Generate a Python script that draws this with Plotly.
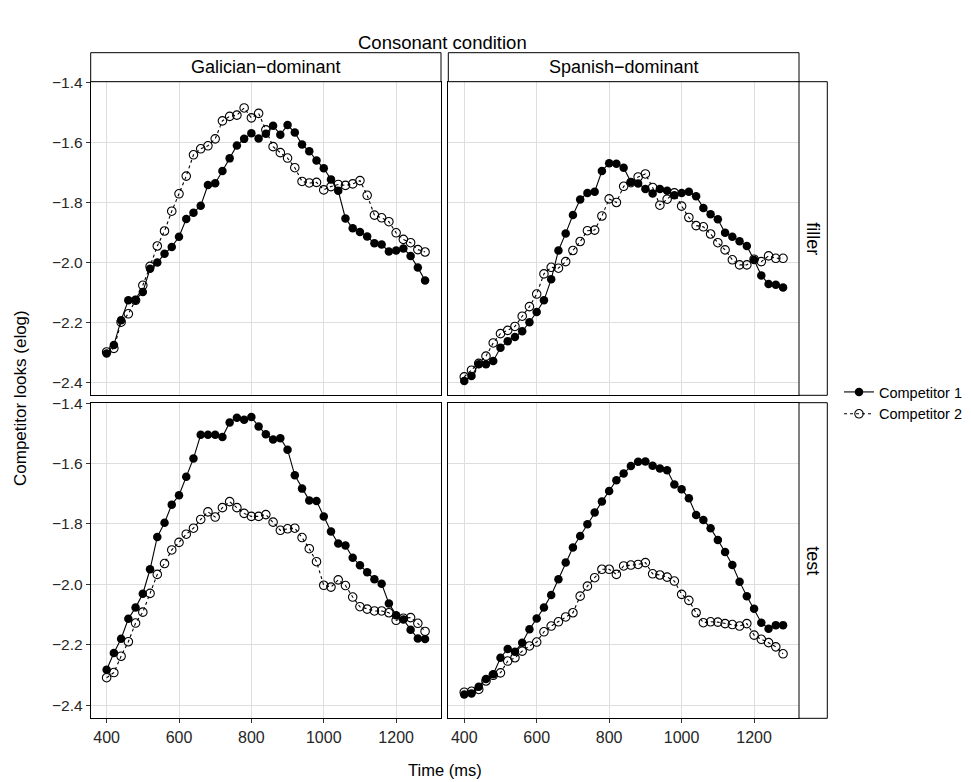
import plotly.graph_objects as go

# ---- data ----
time_ms = list(range(400, 1281, 20))

gal_filler_c1 = [-2.304, -2.276, -2.193, -2.127, -2.126, -2.099, -2.022, -2.001, -1.972, -1.949,
                 -1.915, -1.856, -1.835, -1.812, -1.743, -1.737, -1.696, -1.654, -1.611, -1.589,
                 -1.570, -1.588, -1.572, -1.545, -1.575, -1.543, -1.568, -1.608, -1.630, -1.661,
                 -1.687, -1.724, -1.762, -1.854, -1.887, -1.899, -1.914, -1.937, -1.941, -1.964,
                 -1.961, -1.954, -1.979, -2.018, -2.061]
gal_filler_c2 = [-2.299, -2.287, -2.200, -2.172, -2.127, -2.077, -2.014, -1.946, -1.896, -1.830,
                 -1.772, -1.713, -1.642, -1.622, -1.612, -1.589, -1.529, -1.514, -1.510, -1.486,
                 -1.519, -1.504, -1.559, -1.615, -1.635, -1.653, -1.685, -1.731, -1.736, -1.734,
                 -1.759, -1.748, -1.741, -1.744, -1.739, -1.728, -1.777, -1.843, -1.852, -1.865,
                 -1.902, -1.924, -1.935, -1.958, -1.966]
spa_filler_c1 = [-2.396, -2.379, -2.340, -2.340, -2.329, -2.285, -2.263, -2.249, -2.230, -2.200,
                 -2.166, -2.127, -2.057, -1.961, -1.904, -1.843, -1.791, -1.769, -1.765, -1.696,
                 -1.670, -1.672, -1.685, -1.733, -1.738, -1.756, -1.771, -1.756, -1.762, -1.777,
                 -1.769, -1.765, -1.780, -1.819, -1.840, -1.857, -1.902, -1.915, -1.930, -1.946,
                 -1.993, -2.044, -2.073, -2.075, -2.084]
spa_filler_c2 = [-2.382, -2.360, -2.337, -2.313, -2.269, -2.238, -2.227, -2.214, -2.180, -2.148,
                 -2.106, -2.039, -2.017, -2.020, -1.998, -1.961, -1.931, -1.895, -1.893, -1.846,
                 -1.789, -1.801, -1.747, -1.735, -1.716, -1.706, -1.751, -1.810, -1.790, -1.769,
                 -1.813, -1.851, -1.878, -1.882, -1.906, -1.935, -1.959, -1.992, -2.009, -2.009,
                 -1.990, -1.998, -1.979, -1.987, -1.987]
gal_test_c1 = [-2.283, -2.227, -2.180, -2.114, -2.077, -2.031, -1.950, -1.843, -1.796, -1.736,
               -1.705, -1.644, -1.583, -1.505, -1.505, -1.505, -1.512, -1.464, -1.448, -1.455,
               -1.446, -1.477, -1.503, -1.520, -1.516, -1.554, -1.639, -1.683, -1.722, -1.724,
               -1.775, -1.825, -1.865, -1.871, -1.912, -1.937, -1.960, -1.983, -1.998, -2.063,
               -2.102, -2.116, -2.150, -2.179, -2.181]
gal_test_c2 = [-2.309, -2.292, -2.238, -2.190, -2.128, -2.092, -2.030, -1.967, -1.931, -1.886,
               -1.861, -1.834, -1.814, -1.785, -1.760, -1.777, -1.746, -1.726, -1.746, -1.765,
               -1.775, -1.775, -1.769, -1.794, -1.821, -1.816, -1.814, -1.845, -1.882, -1.925,
               -2.003, -2.009, -1.985, -2.004, -2.042, -2.074, -2.082, -2.088, -2.088, -2.094,
               -2.119, -2.112, -2.110, -2.129, -2.156]
spa_test_c1 = [-2.365, -2.361, -2.339, -2.313, -2.298, -2.243, -2.214, -2.223, -2.193, -2.149,
               -2.113, -2.077, -2.035, -1.983, -1.928, -1.878, -1.840, -1.801, -1.762, -1.726,
               -1.691, -1.655, -1.633, -1.608, -1.594, -1.593, -1.607, -1.616, -1.622, -1.669,
               -1.685, -1.715, -1.770, -1.787, -1.814, -1.853, -1.893, -1.936, -1.991, -2.039,
               -2.081, -2.127, -2.147, -2.135, -2.135]
spa_test_c2 = [-2.357, -2.354, -2.348, -2.320, -2.301, -2.293, -2.254, -2.243, -2.221, -2.204,
               -2.191, -2.157, -2.138, -2.124, -2.108, -2.094, -2.039, -2.006, -1.978, -1.950,
               -1.950, -1.967, -1.939, -1.936, -1.934, -1.928, -1.965, -1.969, -1.976, -1.989,
               -2.033, -2.053, -2.094, -2.127, -2.124, -2.125, -2.130, -2.133, -2.138, -2.130,
               -2.168, -2.182, -2.193, -2.207, -2.230]

x_ticks = [400, 600, 800, 1000, 1200]
y_ticks = [-2.4, -2.2, -2.0, -1.8, -1.6, -1.4]
col_labels = ["Galician−dominant", "Spanish−dominant"]
row_labels = ["filler", "test"]
series_names = ["Competitor 1", "Competitor 2"]

# ---- figure geometry (pixels) ----
W, H = 971, 782
col_px = [(90.7, 441.0), (448.3, 799.0)]
row_px = [(81.7, 395.3), (402.7, 718.3)]
strip_top = 52.7
strip_right = 827.3

def px2x(p):
    return p / W

def px2y(p):
    return 1 - p / H

FONT = "Liberation Sans, Arial, Helvetica, sans-serif"
TXT = "#262626"

fig = go.Figure()

panels = [
    (0, 0, gal_filler_c1, gal_filler_c2),
    (0, 1, spa_filler_c1, spa_filler_c2),
    (1, 0, gal_test_c1, gal_test_c2),
    (1, 1, spa_test_c1, spa_test_c2),
]

layout_axes = {}
for i, (r, c, c1, c2) in enumerate(panels):
    n = i + 1
    xa = "x" if n == 1 else f"x{n}"
    ya = "y" if n == 1 else f"y{n}"
    fig.add_trace(go.Scatter(
        x=time_ms, y=c1, xaxis=xa, yaxis=ya, mode="lines+markers",
        name=series_names[0], legendgroup="c1", showlegend=(n == 1),
        line=dict(color="black", width=1.1, dash="solid"),
        marker=dict(symbol="circle", size=8.5, color="black", line=dict(width=0)),
    ))
    fig.add_trace(go.Scatter(
        x=time_ms, y=c2, xaxis=xa, yaxis=ya, mode="lines+markers",
        name=series_names[1], legendgroup="c2", showlegend=(n == 1),
        line=dict(color="black", width=1.1, dash="dot"),
        marker=dict(symbol="circle-open", size=8.5, color="black", line=dict(width=1.1, color="black")),
    ))
    xd = [px2x(col_px[c][0]), px2x(col_px[c][1])]
    yd = [px2y(row_px[r][1]), px2y(row_px[r][0])]
    xkey = "xaxis" if n == 1 else f"xaxis{n}"
    ykey = "yaxis" if n == 1 else f"yaxis{n}"
    layout_axes[xkey] = dict(
        domain=xd, anchor=ya, range=[356, 1324], tickvals=x_ticks,
        showticklabels=(r == 1), ticks="outside" if r == 1 else "",
        ticklen=4, tickwidth=1, tickcolor="#333333",
        showgrid=True, gridcolor="#dedede", gridwidth=1, zeroline=False,
        showline=True, linecolor="black", linewidth=1, mirror=True,
        tickfont=dict(family=FONT, size=16, color=TXT), automargin=False,
    )
    layout_axes[ykey] = dict(
        domain=yd, anchor=xa, range=[-2.4435, -1.3985], tickvals=y_ticks,
        tickformat=".1f",
        showticklabels=(c == 0), ticks="outside" if c == 0 else "",
        ticklen=4, tickwidth=1, tickcolor="#333333",
        showgrid=True, gridcolor="#dedede", gridwidth=1, zeroline=False,
        showline=True, linecolor="black", linewidth=1, mirror=True,
        tickfont=dict(family=FONT, size=15.5, color=TXT), automargin=False,
    )

shapes = []
annotations = []
# column strips
for c in range(2):
    x0, x1 = col_px[c]
    shapes.append(dict(type="rect", xref="paper", yref="paper",
                       x0=px2x(x0), x1=px2x(x1), y0=px2y(row_px[0][0]), y1=px2y(strip_top),
                       line=dict(color="black", width=1), fillcolor="white", layer="above"))
    annotations.append(dict(text=col_labels[c], xref="paper", yref="paper",
                            x=px2x((x0 + x1) / 2), y=px2y((strip_top + row_px[0][0]) / 2),
                            showarrow=False, xanchor="center", yanchor="middle",
                            font=dict(family=FONT, size=18, color="black")))
# row strips
for r in range(2):
    y0, y1 = row_px[r]
    shapes.append(dict(type="rect", xref="paper", yref="paper",
                       x0=px2x(col_px[1][1]), x1=px2x(strip_right), y0=px2y(y1), y1=px2y(y0),
                       line=dict(color="black", width=1), fillcolor="white", layer="above"))
    annotations.append(dict(text=row_labels[r], xref="paper", yref="paper",
                            x=px2x((col_px[1][1] + strip_right) / 2), y=px2y((y0 + y1) / 2),
                            showarrow=False, xanchor="center", yanchor="middle", textangle=90,
                            font=dict(family=FONT, size=18, color="black")))

# title and axis titles
annotations.append(dict(text="Consonant condition", xref="paper", yref="paper",
                        x=px2x(442), y=px2y(42), showarrow=False,
                        xanchor="center", yanchor="middle",
                        font=dict(family=FONT, size=18.5, color="black")))
annotations.append(dict(text="Time (ms)", xref="paper", yref="paper",
                        x=px2x(445), y=px2y(770), showarrow=False,
                        xanchor="center", yanchor="middle",
                        font=dict(family=FONT, size=16.5, color="black")))
annotations.append(dict(text="Competitor looks (elog)", xref="paper", yref="paper",
                        x=px2x(20), y=px2y(398), showarrow=False, textangle=-90,
                        xanchor="center", yanchor="middle",
                        font=dict(family=FONT, size=17, color="black")))

fig.update_layout(
    width=W, height=H,
    margin=dict(l=0, r=0, t=0, b=0),
    paper_bgcolor="white", plot_bgcolor="white",
    showlegend=True,
    legend=dict(x=px2x(839), y=px2y(403), xanchor="left", yanchor="middle",
                font=dict(family=FONT, size=14.5, color="black"),
                bgcolor="rgba(0,0,0,0)", itemwidth=30, tracegroupgap=0),
    shapes=shapes, annotations=annotations,
    **layout_axes,
)

fig.write_html(
    "out.html",
    config={"displayModeBar": False},
    post_script="document.body.style.margin='0px';document.body.style.overflow='hidden';",
)
